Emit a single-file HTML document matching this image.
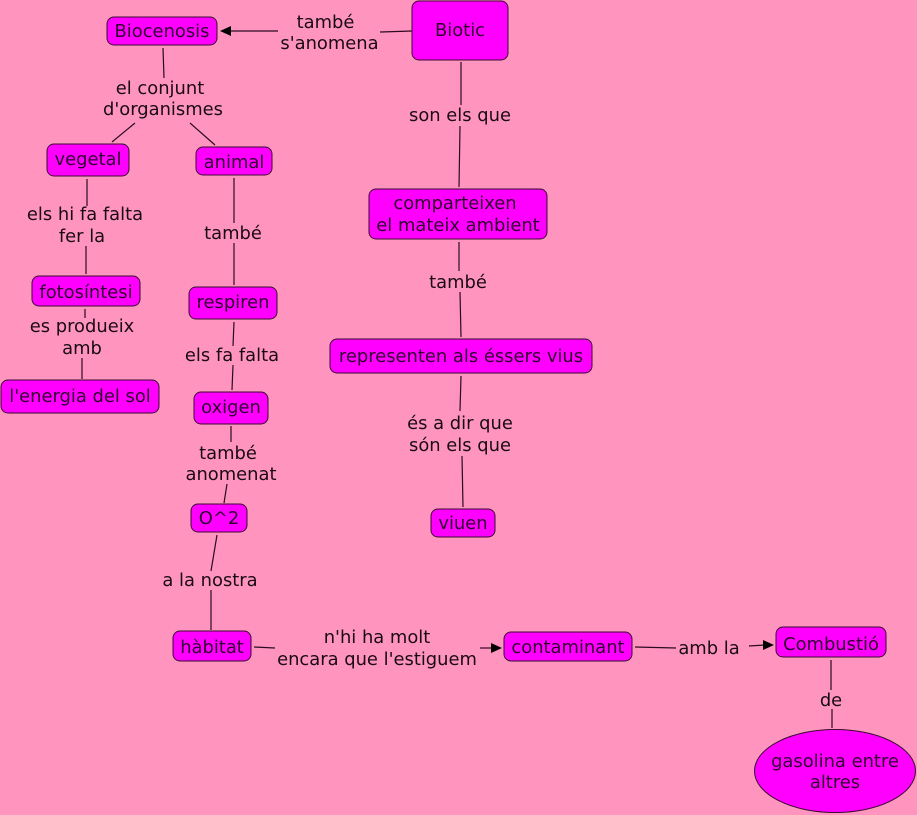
<!DOCTYPE html>
<html><head><meta charset="utf-8"><style>
html,body{margin:0;padding:0;background:#ff95bf;width:917px;height:815px;overflow:hidden}
svg{display:block}
text{font-family:"DejaVu Sans",sans-serif;font-size:17.9px;fill:#1a0a14;text-anchor:middle}
.n text,text.n{fill:#300030}
rect,ellipse{fill:#ff00ff;stroke:#3a0a30;stroke-width:1}
line{stroke:#2a0a20;stroke-width:1.2}
polygon{fill:#000}
</style></head><body>
<svg width="917" height="815" viewBox="0 0 917 815" xmlns="http://www.w3.org/2000/svg">
<rect x="0" y="0" width="917" height="815" style="fill:#ff95bf;stroke:none"/>
<line x1="278" y1="31" x2="231" y2="31"/><polygon points="220,31 231,26 231,36"/>
<line x1="380" y1="32" x2="412" y2="31"/>
<line x1="163" y1="48" x2="164" y2="78"/>
<line x1="135" y1="123" x2="112" y2="142"/>
<line x1="190" y1="123" x2="215" y2="145"/>
<line x1="87" y1="179" x2="87" y2="206"/>
<line x1="234" y1="178" x2="234" y2="223"/>
<line x1="86" y1="246" x2="86" y2="274"/>
<line x1="234" y1="243" x2="234" y2="285"/>
<line x1="85" y1="309" x2="85" y2="318"/>
<line x1="82" y1="358" x2="82" y2="379"/>
<line x1="234" y1="322" x2="233" y2="346"/>
<line x1="233" y1="365" x2="232" y2="390"/>
<line x1="231" y1="426" x2="231" y2="442"/>
<line x1="227" y1="484" x2="224" y2="503"/>
<line x1="217" y1="535" x2="211" y2="571"/>
<line x1="211" y1="590" x2="211" y2="630"/>
<line x1="254" y1="647" x2="275" y2="648"/>
<line x1="480" y1="648" x2="492" y2="648"/><polygon points="502,648 491,643 491,653"/>
<line x1="635" y1="647" x2="676" y2="648"/>
<line x1="749" y1="646" x2="765" y2="645"/><polygon points="774,645 763,640 763,650"/>
<line x1="831" y1="660" x2="831" y2="690"/>
<line x1="832" y1="709" x2="832" y2="728"/>
<line x1="461" y1="62" x2="461" y2="105"/>
<line x1="460" y1="126" x2="459" y2="187"/>
<line x1="459" y1="242" x2="459" y2="271"/>
<line x1="460" y1="292" x2="461" y2="337"/>
<line x1="461" y1="376" x2="460" y2="411"/>
<line x1="462" y1="456" x2="463" y2="507"/>

<rect x="107" y="17" width="110" height="28" rx="7"/>
<rect x="412" y="1" width="96" height="59" rx="7"/>
<rect x="47" y="144" width="82" height="32" rx="7"/>
<rect x="196" y="147" width="76" height="28" rx="7"/>
<rect x="32" y="276" width="108" height="30" rx="7"/>
<rect x="189" y="287" width="88" height="32" rx="7"/>
<rect x="1" y="380" width="158" height="33" rx="7"/>
<rect x="194" y="392" width="74" height="32" rx="7"/>
<rect x="191" y="504" width="56" height="28" rx="7"/>
<rect x="173" y="631" width="78" height="30" rx="7"/>
<rect x="369" y="189" width="178" height="50" rx="7"/>
<rect x="330" y="339" width="262" height="34" rx="7"/>
<rect x="431" y="509" width="64" height="28" rx="7"/>
<rect x="504" y="632" width="128" height="29" rx="7"/>
<rect x="776" y="627" width="110" height="30" rx="7"/>
<ellipse cx="835" cy="771" rx="80.5" ry="41.5"/>

<g class="n">
<text x="162" y="37">Biocenosis</text>
<text x="460" y="36">Biotic</text>
<text x="88" y="165">vegetal</text>
<text x="234" y="168">animal</text>
<text x="86" y="298">fotosíntesi</text>
<text x="233" y="308">respiren</text>
<text x="80" y="402">l'energia del sol</text>
<text x="231" y="413">oxigen</text>
<text x="219" y="524">O^2</text>
<text x="212" y="653">hàbitat</text>
<text x="455" y="209">comparteixen</text>
<text x="458" y="231">el mateix ambient</text>
<text x="461" y="362">representen als éssers vius</text>
<text x="463" y="529">viuen</text>
<text x="568" y="653">contaminant</text>
<text x="831" y="650">Combustió</text>
<text x="835" y="767">gasolina entre</text>
<text x="835" y="788">altres</text>
</g>

<text x="325.5" y="28">també</text>
<text x="329.5" y="49">s'anomena</text>
<text x="160" y="94">el conjunt</text>
<text x="163" y="115">d'organismes</text>
<text x="460" y="121">son els que</text>
<text x="85" y="220">els hi fa falta</text>
<text x="82" y="242">fer la</text>
<text x="233" y="239">també</text>
<text x="458" y="288">també</text>
<text x="82" y="332">es produeix</text>
<text x="82" y="354">amb</text>
<text x="232" y="361">els fa falta</text>
<text x="460" y="429">és a dir que</text>
<text x="460" y="451">són els que</text>
<text x="228" y="459">també</text>
<text x="231" y="480">anomenat</text>
<text x="210" y="586">a la nostra</text>
<text x="377" y="643">n'hi ha molt</text>
<text x="377" y="665">encara que l'estiguem</text>
<text x="709" y="654">amb la</text>
<text x="831" y="706">de</text>
</svg>
</body></html>
